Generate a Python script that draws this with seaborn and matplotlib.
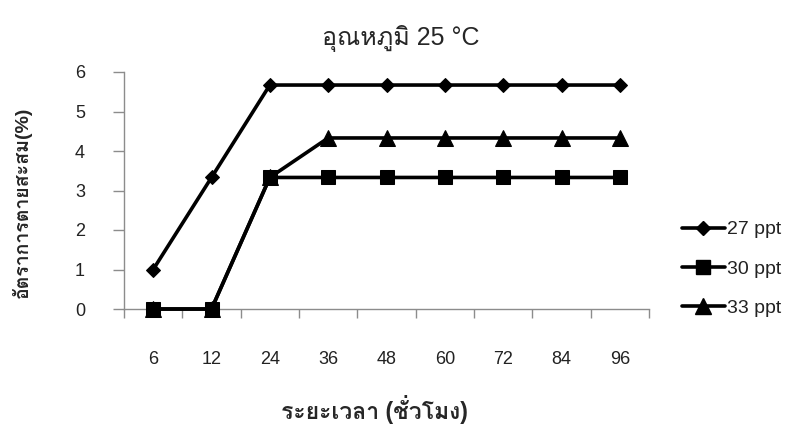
import matplotlib
matplotlib.use("Agg")
import matplotlib.pyplot as plt
from matplotlib.lines import Line2D
import seaborn as sns
import pandas as pd

# Hours after exposure (categorical axis)
hours = ["6", "12", "24", "36", "48", "60", "72", "84", "96"]

# Cumulative mortality (%) at 25 °C for each salinity
mort_27 = [1.00, 3.33, 5.67, 5.67, 5.67, 5.67, 5.67, 5.67, 5.67]
mort_30 = [0.00, 0.00, 3.33, 3.33, 3.33, 3.33, 3.33, 3.33, 3.33]
mort_33 = [0.00, 0.00, 3.33, 4.33, 4.33, 4.33, 4.33, 4.33, 4.33]

series_labels = ["27 ppt", "30 ppt", "33 ppt"]
series_markers = ["D", "s", "^"]
series_sizes = [7.5, 10, 11]

sns.set_theme(style="white")
plt.rcParams["font.family"] = ["Liberation Sans", "Loma", "DejaVu Sans"]

rows = []
for lab, vals in zip(series_labels, [mort_27, mort_30, mort_33]):
    for i, (h, v) in enumerate(zip(hours, vals)):
        rows.append({"pos": i, "hour": h, "mortality": v, "salinity": lab})
df = pd.DataFrame(rows)

fig = plt.figure(figsize=(8.07, 4.26), dpi=100)
ax = fig.add_axes([124 / 807, 1 - 309 / 426, 525 / 807, 237 / 426])

# 33 ppt drawn first so the squares of 30 ppt sit on top of it
for k in [2, 1, 0]:
    sub = df[df["salinity"] == series_labels[k]]
    sns.lineplot(data=sub, x="pos", y="mortality", ax=ax, color="black",
                 linewidth=2.6, marker=series_markers[k],
                 markersize=series_sizes[k], markeredgecolor="black",
                 markerfacecolor="black", sort=False, legend=False,
                 zorder=3 + (2 - k), clip_on=False)

ax.set_xlim(-0.5, len(hours) - 0.5)
ax.set_ylim(0, 6)
ax.set_yticks(range(0, 7))
ax.set_xticks(range(len(hours)))
ax.set_xticklabels(hours)
ax.set_xticks([i - 0.5 for i in range(len(hours) + 1)], minor=True)

for side in ["top", "right"]:
    ax.spines[side].set_visible(False)
for side in ["left", "bottom"]:
    ax.spines[side].set_color("#8c8c8c")
    ax.spines[side].set_linewidth(1.0)

ax.tick_params(axis="x", which="major", length=0, pad=30,
               labelsize=13, labelcolor="#222222")
ax.tick_params(axis="x", which="minor", length=6.5, width=1.0,
               color="#8c8c8c", direction="out", bottom=True)
ax.tick_params(axis="y", which="major", length=8, width=1.0,
               color="#8c8c8c", direction="out", left=True, pad=20,
               labelsize=13, labelcolor="#222222")
ax.set_xlabel("")
ax.set_ylabel("")

fig.text(401 / 807, 1 - 38 / 426, "อุณหภูมิ 25 °C", ha="center", va="center",
         fontsize=18)
fig.text(374 / 807, 1 - 410 / 426, "ระยะเวลา (ชั่วโมง)", ha="center",
         va="center", fontsize=16.5, fontweight="bold")
fig.text(22 / 807, 1 - 202 / 426, "อัตราการตายสะสม(%)", ha="center",
         va="center", rotation=90, fontsize=14, fontweight="bold")

handles = [Line2D([], [], color="black", linewidth=2.6, marker=m,
                  markersize=s, markerfacecolor="black",
                  markeredgecolor="black")
           for m, s in zip(series_markers, series_sizes)]
fig.legend(handles, series_labels, loc="center left",
           bbox_to_anchor=(682 / 807, 1 - 269 / 426), frameon=False,
           fontsize=14, handlelength=2.2, handletextpad=0.1,
           labelspacing=1.12, borderpad=0, borderaxespad=0,
           labelcolor="#222222")

fig.savefig("out.png", dpi=100, facecolor="white")
